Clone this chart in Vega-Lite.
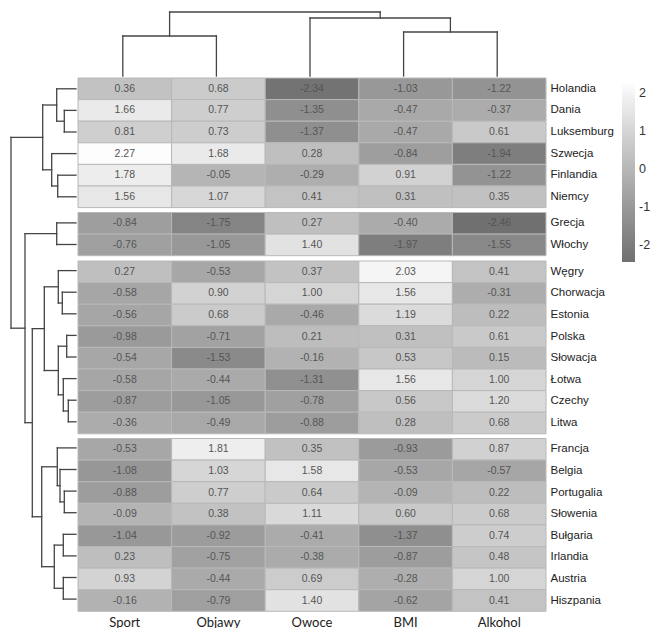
{
  "$schema": "https://vega.github.io/schema/vega-lite/v6.json",
  "padding": 0,
  "background": "white",
  "config": {
    "view": {"stroke": null},
    "locale": {"number": {"decimal": ".", "thousands": ",", "grouping": [3], "currency": ["", ""], "minus": "-"}},
    "concat": {"spacing": 0}
  },
  "datasets": {
    "countries": [
      {"country": "Holandia", "cluster": 1, "Sport": 0.36, "Objawy": 0.68, "Owoce": -2.34, "BMI": -1.03, "Alkohol": -1.22},
      {"country": "Dania", "cluster": 1, "Sport": 1.66, "Objawy": 0.77, "Owoce": -1.35, "BMI": -0.47, "Alkohol": -0.37},
      {"country": "Luksemburg", "cluster": 1, "Sport": 0.81, "Objawy": 0.73, "Owoce": -1.37, "BMI": -0.47, "Alkohol": 0.61},
      {"country": "Szwecja", "cluster": 1, "Sport": 2.27, "Objawy": 1.68, "Owoce": 0.28, "BMI": -0.84, "Alkohol": -1.94},
      {"country": "Finlandia", "cluster": 1, "Sport": 1.78, "Objawy": -0.05, "Owoce": -0.29, "BMI": 0.91, "Alkohol": -1.22},
      {"country": "Niemcy", "cluster": 1, "Sport": 1.56, "Objawy": 1.07, "Owoce": 0.41, "BMI": 0.31, "Alkohol": 0.35},
      {"country": "Grecja", "cluster": 2, "Sport": -0.84, "Objawy": -1.75, "Owoce": 0.27, "BMI": -0.40, "Alkohol": -2.46},
      {"country": "Włochy", "cluster": 2, "Sport": -0.76, "Objawy": -1.05, "Owoce": 1.40, "BMI": -1.97, "Alkohol": -1.55},
      {"country": "Węgry", "cluster": 3, "Sport": 0.27, "Objawy": -0.53, "Owoce": 0.37, "BMI": 2.03, "Alkohol": 0.41},
      {"country": "Chorwacja", "cluster": 3, "Sport": -0.58, "Objawy": 0.90, "Owoce": 1.00, "BMI": 1.56, "Alkohol": -0.31},
      {"country": "Estonia", "cluster": 3, "Sport": -0.56, "Objawy": 0.68, "Owoce": -0.46, "BMI": 1.19, "Alkohol": 0.22},
      {"country": "Polska", "cluster": 3, "Sport": -0.98, "Objawy": -0.71, "Owoce": 0.21, "BMI": 0.31, "Alkohol": 0.61},
      {"country": "Słowacja", "cluster": 3, "Sport": -0.54, "Objawy": -1.53, "Owoce": -0.16, "BMI": 0.53, "Alkohol": 0.15},
      {"country": "Łotwa", "cluster": 3, "Sport": -0.58, "Objawy": -0.44, "Owoce": -1.31, "BMI": 1.56, "Alkohol": 1.00},
      {"country": "Czechy", "cluster": 3, "Sport": -0.87, "Objawy": -1.05, "Owoce": -0.78, "BMI": 0.56, "Alkohol": 1.20},
      {"country": "Litwa", "cluster": 3, "Sport": -0.36, "Objawy": -0.49, "Owoce": -0.88, "BMI": 0.28, "Alkohol": 0.68},
      {"country": "Francja", "cluster": 4, "Sport": -0.53, "Objawy": 1.81, "Owoce": 0.35, "BMI": -0.93, "Alkohol": 0.87},
      {"country": "Belgia", "cluster": 4, "Sport": -1.08, "Objawy": 1.03, "Owoce": 1.58, "BMI": -0.53, "Alkohol": -0.57},
      {"country": "Portugalia", "cluster": 4, "Sport": -0.88, "Objawy": 0.77, "Owoce": 0.64, "BMI": -0.09, "Alkohol": 0.22},
      {"country": "Słowenia", "cluster": 4, "Sport": -0.09, "Objawy": 0.38, "Owoce": 1.11, "BMI": 0.60, "Alkohol": 0.68},
      {"country": "Bułgaria", "cluster": 4, "Sport": -1.04, "Objawy": -0.92, "Owoce": -0.41, "BMI": -1.37, "Alkohol": 0.74},
      {"country": "Irlandia", "cluster": 4, "Sport": 0.23, "Objawy": -0.75, "Owoce": -0.38, "BMI": -0.87, "Alkohol": 0.48},
      {"country": "Austria", "cluster": 4, "Sport": 0.93, "Objawy": -0.44, "Owoce": 0.69, "BMI": -0.28, "Alkohol": 1.00},
      {"country": "Hiszpania", "cluster": 4, "Sport": -0.16, "Objawy": -0.79, "Owoce": 1.40, "BMI": -0.62, "Alkohol": 0.41}
    ],
    "rowTree": [
      {"d0": 0, "d1": 19.3, "y0": 0.5, "y1": 0.5},
      {"d0": 0, "d1": 11.7, "y0": 1.5, "y1": 1.5},
      {"d0": 0, "d1": 11.7, "y0": 2.5, "y1": 2.5},
      {"d0": 0, "d1": 24.3, "y0": 3.5, "y1": 3.5},
      {"d0": 0, "d1": 18.3, "y0": 4.5, "y1": 4.5},
      {"d0": 0, "d1": 18.3, "y0": 5.5, "y1": 5.5},
      {"d0": 0, "d1": 19.3, "y0": 6.708, "y1": 6.708},
      {"d0": 0, "d1": 19.3, "y0": 7.708, "y1": 7.708},
      {"d0": 0, "d1": 17.7, "y0": 8.917, "y1": 8.917},
      {"d0": 0, "d1": 13.7, "y0": 9.917, "y1": 9.917},
      {"d0": 0, "d1": 13.7, "y0": 10.917, "y1": 10.917},
      {"d0": 0, "d1": 9.3, "y0": 11.917, "y1": 11.917},
      {"d0": 0, "d1": 9.3, "y0": 12.917, "y1": 12.917},
      {"d0": 0, "d1": 12.7, "y0": 13.917, "y1": 13.917},
      {"d0": 0, "d1": 7.7, "y0": 14.917, "y1": 14.917},
      {"d0": 0, "d1": 7.7, "y0": 15.917, "y1": 15.917},
      {"d0": 0, "d1": 18.7, "y0": 17.125, "y1": 17.125},
      {"d0": 0, "d1": 16, "y0": 18.125, "y1": 18.125},
      {"d0": 0, "d1": 11.7, "y0": 19.125, "y1": 19.125},
      {"d0": 0, "d1": 11.7, "y0": 20.125, "y1": 20.125},
      {"d0": 0, "d1": 12.7, "y0": 21.125, "y1": 21.125},
      {"d0": 0, "d1": 12.7, "y0": 22.125, "y1": 22.125},
      {"d0": 0, "d1": 12.7, "y0": 23.125, "y1": 23.125},
      {"d0": 0, "d1": 12.7, "y0": 24.125, "y1": 24.125},
      {"d0": 11.7, "d1": 19.3, "y0": 2, "y1": 2},
      {"d0": 18.3, "d1": 24.3, "y0": 5, "y1": 5},
      {"d0": 19.3, "d1": 33.3, "y0": 1.25, "y1": 1.25},
      {"d0": 24.3, "d1": 33.3, "y0": 4.25, "y1": 4.25},
      {"d0": 33.3, "d1": 65, "y0": 2.75, "y1": 2.75},
      {"d0": 19.3, "d1": 51, "y0": 7.208, "y1": 7.208},
      {"d0": 13.7, "d1": 17.7, "y0": 10.417, "y1": 10.417},
      {"d0": 9.3, "d1": 17.7, "y0": 12.417, "y1": 12.417},
      {"d0": 7.7, "d1": 12.7, "y0": 15.417, "y1": 15.417},
      {"d0": 12.7, "d1": 17.7, "y0": 14.667, "y1": 14.667},
      {"d0": 17.7, "d1": 31.7, "y0": 9.667, "y1": 9.667},
      {"d0": 17.7, "d1": 31.7, "y0": 13.542, "y1": 13.542},
      {"d0": 31.7, "d1": 43.7, "y0": 11.604, "y1": 11.604},
      {"d0": 11.7, "d1": 16, "y0": 19.625, "y1": 19.625},
      {"d0": 16, "d1": 18.7, "y0": 18.875, "y1": 18.875},
      {"d0": 12.7, "d1": 21.7, "y0": 21.625, "y1": 21.625},
      {"d0": 12.7, "d1": 21.7, "y0": 23.625, "y1": 23.625},
      {"d0": 18.7, "d1": 34.3, "y0": 18, "y1": 18},
      {"d0": 21.7, "d1": 34.3, "y0": 22.625, "y1": 22.625},
      {"d0": 34.3, "d1": 43.7, "y0": 20.313, "y1": 20.313},
      {"d0": 43.7, "d1": 51, "y0": 15.958, "y1": 15.958},
      {"d0": 51, "d1": 65, "y0": 11.583, "y1": 11.583},
      {"d0": 11.7, "d1": 11.7, "y0": 1.5, "y1": 2.5},
      {"d0": 19.3, "d1": 19.3, "y0": 0.5, "y1": 2},
      {"d0": 18.3, "d1": 18.3, "y0": 4.5, "y1": 5.5},
      {"d0": 24.3, "d1": 24.3, "y0": 3.5, "y1": 5},
      {"d0": 33.3, "d1": 33.3, "y0": 1.25, "y1": 4.25},
      {"d0": 19.3, "d1": 19.3, "y0": 6.708, "y1": 7.708},
      {"d0": 13.7, "d1": 13.7, "y0": 9.917, "y1": 10.917},
      {"d0": 17.7, "d1": 17.7, "y0": 8.917, "y1": 10.417},
      {"d0": 9.3, "d1": 9.3, "y0": 11.917, "y1": 12.917},
      {"d0": 7.7, "d1": 7.7, "y0": 14.917, "y1": 15.917},
      {"d0": 12.7, "d1": 12.7, "y0": 13.917, "y1": 15.417},
      {"d0": 17.7, "d1": 17.7, "y0": 12.417, "y1": 14.667},
      {"d0": 31.7, "d1": 31.7, "y0": 9.667, "y1": 13.542},
      {"d0": 11.7, "d1": 11.7, "y0": 19.125, "y1": 20.125},
      {"d0": 16, "d1": 16, "y0": 18.125, "y1": 19.625},
      {"d0": 18.7, "d1": 18.7, "y0": 17.125, "y1": 18.875},
      {"d0": 12.7, "d1": 12.7, "y0": 21.125, "y1": 22.125},
      {"d0": 12.7, "d1": 12.7, "y0": 23.125, "y1": 24.125},
      {"d0": 21.7, "d1": 21.7, "y0": 21.625, "y1": 23.625},
      {"d0": 34.3, "d1": 34.3, "y0": 18, "y1": 22.625},
      {"d0": 43.7, "d1": 43.7, "y0": 11.604, "y1": 20.313},
      {"d0": 51, "d1": 51, "y0": 7.208, "y1": 15.958},
      {"d0": 65, "d1": 65, "y0": 2.75, "y1": 11.583}
    ],
    "colTree": [
      {"c0": 0.5, "c1": 0.5, "d0": 0, "d1": 40},
      {"c0": 1.5, "c1": 1.5, "d0": 0, "d1": 40},
      {"c0": 2.5, "c1": 2.5, "d0": 0, "d1": 58},
      {"c0": 3.5, "c1": 3.5, "d0": 0, "d1": 44},
      {"c0": 4.5, "c1": 4.5, "d0": 0, "d1": 44},
      {"c0": 1, "c1": 1, "d0": 40, "d1": 64},
      {"c0": 4, "c1": 4, "d0": 44, "d1": 58},
      {"c0": 3.25, "c1": 3.25, "d0": 58, "d1": 64},
      {"c0": 0.5, "c1": 1.5, "d0": 40, "d1": 40},
      {"c0": 3.5, "c1": 4.5, "d0": 44, "d1": 44},
      {"c0": 2.5, "c1": 4, "d0": 58, "d1": 58},
      {"c0": 1, "c1": 3.25, "d0": 64, "d1": 64}
    ]
  },
  "vconcat": [
    {
      "hconcat": [
        {
          "width": 76,
          "height": 76,
          "data": {"values": []},
          "mark": "rule",
          "encoding": {}
        },
        {
          "width": 468,
          "height": 76,
          "data": {"name": "colTree"},
          "mark": {"type": "rule", "color": "#444444", "strokeWidth": 1.3, "strokeCap": "square"},
          "encoding": {
            "x": {"field": "c0", "type": "quantitative", "scale": {"domain": [0, 5]}, "axis": null},
            "x2": {"field": "c1"},
            "y": {"field": "d0", "type": "quantitative", "scale": {"domain": [0, 76]}, "axis": null},
            "y2": {"field": "d1"}
          }
        }
      ]
    },
    {
      "hconcat": [
        {
          "width": 76,
          "height": 531.9,
          "data": {"name": "rowTree"},
          "mark": {"type": "rule", "color": "#444444", "strokeWidth": 1.3, "strokeCap": "square"},
          "encoding": {
            "x": {"field": "d0", "type": "quantitative", "scale": {"domain": [0, 76], "reverse": true}, "axis": null},
            "x2": {"field": "d1"},
            "y": {"field": "y0", "type": "quantitative", "scale": {"domain": [0, 24.625], "reverse": true}, "axis": null},
            "y2": {"field": "y1"}
          }
        },
        {
          "data": {"name": "countries"},
          "transform": [
            {"fold": ["Sport", "Objawy", "Owoce", "BMI", "Alkohol"], "as": ["var", "value"]}
          ],
          "facet": {
            "row": {"field": "cluster", "type": "ordinal", "header": {"labels": false, "title": null, "labelPadding": 0, "titlePadding": 0}}
          },
          "bounds": "flush",
          "spacing": {"row": 4.5},
          "resolve": {"scale": {"y": "independent"}},
          "spec": {
            "width": 468,
            "height": {"step": 21.6},
            "encoding": {
              "x": {
                "field": "var",
                "type": "nominal",
                "sort": ["Sport", "Objawy", "Owoce", "BMI", "Alkohol"],
                "scale": {"paddingInner": 0, "paddingOuter": 0},
                "axis": {
                  "title": null, "orient": "bottom", "labelAngle": 0, "ticks": false, "domain": false,
                  "labelFont": "Lato", "labelFontSize": 13, "labelColor": "#222222", "labelPadding": 4
                }
              },
              "y": {
                "field": "country",
                "type": "nominal",
                "sort": ["Holandia", "Dania", "Luksemburg", "Szwecja", "Finlandia", "Niemcy", "Grecja", "Włochy", "Węgry", "Chorwacja", "Estonia", "Polska", "Słowacja", "Łotwa", "Czechy", "Litwa", "Francja", "Belgia", "Portugalia", "Słowenia", "Bułgaria", "Irlandia", "Austria", "Hiszpania"],
                "scale": {"paddingInner": 0, "paddingOuter": 0},
                "axis": {
                  "title": null, "orient": "right", "ticks": false, "domain": false,
                  "labelFont": "Liberation Sans", "labelFontSize": 11.5, "labelColor": "#222222", "labelPadding": 4
                }
              }
            },
            "layer": [
              {
                "mark": {"type": "rect", "stroke": "#b8b8b8", "strokeWidth": 1},
                "encoding": {
                  "color": {
                    "field": "value",
                    "type": "quantitative",
                    "scale": {"domain": [-2.46, 2.27], "range": ["#707070", "#fdfdfd"], "zero": false},
                    "legend": {
                      "title": null,
                      "orient": "none",
                      "legendX": 622,
                      "legendY": 83,
                      "direction": "vertical",
                      "gradientLength": 179,
                      "gradientThickness": 13,
                      "gradientStrokeWidth": 0,
                      "values": [-2, -1, 0, 1, 2],
                      "labelFont": "Liberation Sans",
                      "labelFontSize": 12.5,
                      "labelColor": "#333333",
                      "labelOffset": 4
                    }
                  }
                }
              },
              {
                "mark": {"type": "text", "font": "Liberation Sans", "fontSize": 10.5, "color": "#555555"},
                "encoding": {
                  "text": {"field": "value", "type": "quantitative", "format": ".2f"}
                }
              }
            ]
          }
        }
      ]
    }
  ]
}
